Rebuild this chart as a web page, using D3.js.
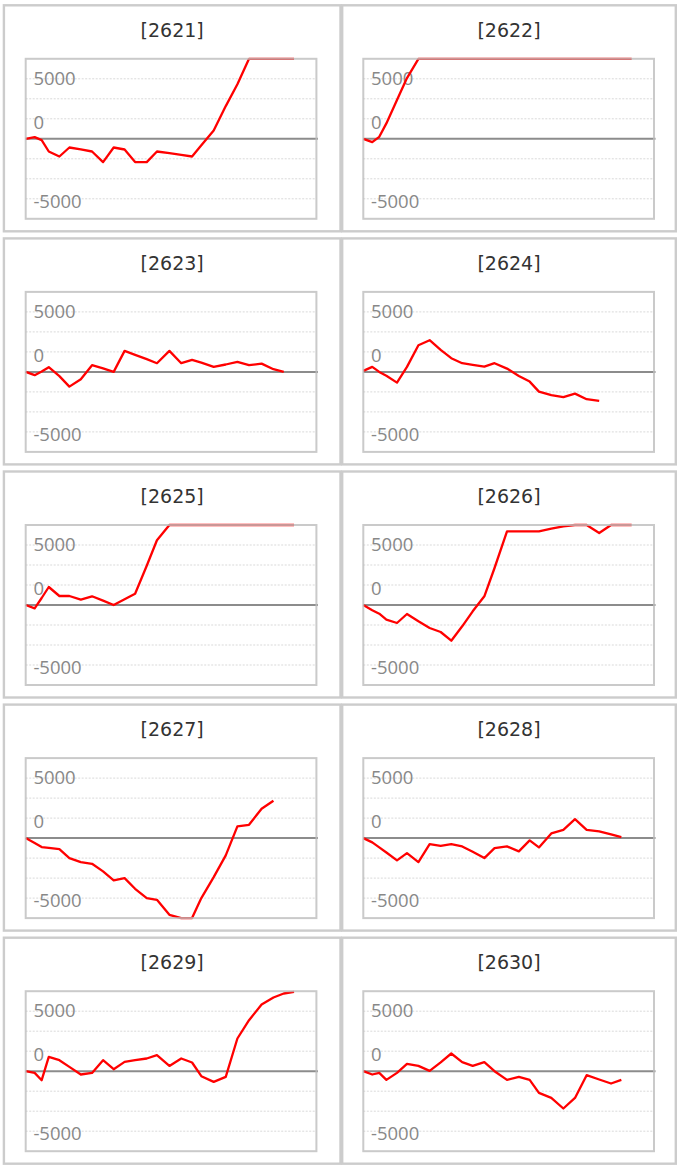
<!DOCTYPE html>
<html><head><meta charset="utf-8">
<script src="https://cdn.jsdelivr.net/npm/d3@7"></script>
<style>html,body{margin:0;padding:0;background:#fff}svg{display:block}</style>
</head><body><svg id="chart" width="682" height="1167"></svg>
<script>
// ---- data ----
const codes = ["2621", "2622", "2623", "2624", "2625", "2626", "2627", "2628", "2629", "2630"];
const times = [0, 0.87, 1.55, 2.24, 3.27, 4.24, 5.35, 6.44, 7.51, 8.54, 9.6, 10.62, 11.75, 12.74, 13.95, 15.1, 16.15, 17.05, 18.25, 19.42, 20.55, 21.68, 22.9, 24.05, 25.05, 26.05];
const s2621 = [0, 170, -130, -1270, -1770, -870, -1060, -1270, -2330, -870, -1070, -2330, -2330, -1270, -1440, -1610, -1770, -650, 830, 3270, 5450, 8100, 9000, 9800, 10500, 11000];
const s2622 = [0, -330, 200, 1540, 3870, 6070, 8200, 9500, 10500, 11200, 11800, 12300, 12800, 13200, 13600, 14000, 14300, 14600, 14900, 15200, 15400, 15600, 15800, 16000, 16200, 16400];
const s2623 = [0, -330, 30, 470, -420, -1470, -730, 670, 350, 0, 2100, 1710, 1270, 870, 2100, 870, 1200, 920, 500, 740, 1000, 670, 830, 270, 0, null];
const s2624 = [100, 500, 0, -380, -1070, 500, 2670, 3170, 2200, 1370, 870, 710, 530, 870, 330, -400, -970, -1970, -2330, -2530, -2170, -2730, -2900, null, null, null];
const s2625 = [0, -330, 700, 1800, 900, 900, 530, 870, 440, 0, 580, 1130, 3920, 6470, 8300, 9000, 9500, 9800, 10000, 10200, 10400, 10500, 10600, 10700, 10800, 10900];
const s2626 = [0, -520, -870, -1470, -1800, -900, -1630, -2300, -2700, -3570, -2130, -630, 870, 3700, 7370, 7370, 7370, 7370, 7630, 7870, 8100, 8050, 7200, 8200, 8500, 8600];
const s2627 = [0, -490, -900, -970, -1100, -2000, -2400, -2570, -3330, -4230, -4000, -5070, -6000, -6170, -7670, -8100, -8200, -6000, -3900, -1730, 1170, 1330, 2930, 3730, null, null];
const s2628 = [0, -430, -930, -1440, -2230, -1500, -2400, -600, -770, -600, -830, -1370, -2000, -1000, -830, -1330, -230, -930, 470, 830, 1900, 830, 670, 370, 100, null];
const s2629 = [0, -170, -900, 1430, 1100, 430, -330, -170, 1100, 200, 930, 1100, 1270, 1600, 530, 1270, 870, -500, -1070, -570, 3270, 5100, 6670, 7370, 7770, 7930];
const s2630 = [0, -330, -170, -870, -170, 730, 530, 30, 890, 1770, 900, 530, 900, 0, -870, -570, -870, -2170, -2670, -3730, -2670, -400, -830, -1230, -870, null];
const seriesList = [s2621, s2622, s2623, s2624, s2625, s2626, s2627, s2628, s2629, s2630];
const yDomain = [-8000, 8000];
const xDomain = [0, 28.22];
const tickLabels = [5000, 0, -5000];
const gridValues = [6000, 4000, 2000, -2000, -4000, -6000];

// ---- layout ----
const svg = d3.select("#chart");
const panelX = [3.9, 342.2], panelW = [336.6, 333.6];
const boxLeft = [25.7, 363.3], boxW = 290.7;
const zero0 = 138.8, rowPitch = 233.1;
const labelDy = {"5000": -4.3, "0": -10.3, "-5000": 19};

codes.forEach((code, i) => {
  const col = i % 2, row = Math.floor(i / 2);
  const zy = zero0 + row * rowPitch;
  const x = d3.scaleLinear().domain(xDomain).range([boxLeft[col], boxLeft[col] + boxW]);
  const y = d3.scaleLinear().domain(yDomain).range([zy + 80, zy - 80]).clamp(true);
  const g = svg.append("g");

  // panel frame
  g.append("rect")
    .attr("x", panelX[col]).attr("y", zy - 133.5)
    .attr("width", panelW[col]).attr("height", 226)
    .attr("fill", "none").attr("stroke", "#cccccc").attr("stroke-width", 2.4);

  // title
  g.append("text")
    .attr("x", panelX[col] + panelW[col] / 2).attr("y", zy - 102)
    .attr("text-anchor", "middle")
    .attr("font-family", "'DejaVu Sans', Verdana, sans-serif")
    .attr("font-size", 19).attr("fill", "#333")
    .text("[" + code + "]");

  // dotted gridlines
  g.selectAll("line.grid").data(gridValues).enter().append("line")
    .attr("x1", x.range()[0]).attr("x2", x.range()[1])
    .attr("y1", d => y(d)).attr("y2", d => y(d))
    .attr("stroke", "#d9d9d9").attr("stroke-width", 1).attr("stroke-dasharray", "2,1.5");

  // zero line
  g.append("line")
    .attr("x1", x.range()[0]).attr("x2", x.range()[1] + 1.5)
    .attr("y1", y(0)).attr("y2", y(0))
    .attr("stroke", "#8c8c8c").attr("stroke-width", 2);

  // tick labels
  g.selectAll("text.tick").data(tickLabels).enter().append("text")
    .attr("x", x.range()[0] + 7.7)
    .attr("y", d => y(d) + labelDy[String(d)])
    .attr("font-family", "'Open Sans', 'Noto Sans', sans-serif")
    .attr("font-size", 18.5).attr("fill", "#888888")
    .text(d => d);

  // series line
  const pts = times.map((t, k) => [t, seriesList[i][k]]).filter(p => p[1] !== null);
  const line = d3.line().x(p => x(p[0])).y(p => y(p[1]));
  g.append("path").datum(pts)
    .attr("d", line).attr("fill", "none")
    .attr("stroke", "#ff0000").attr("stroke-width", 2.3).attr("stroke-linejoin", "round");

  // plot box on top
  g.append("rect")
    .attr("x", x.range()[0]).attr("y", y.range()[1])
    .attr("width", boxW).attr("height", y.range()[0] - y.range()[1])
    .attr("fill", "none").attr("stroke", "#bdbdbd").attr("stroke-width", 2).attr("stroke-opacity", 0.8);
});
</script></body></html>
